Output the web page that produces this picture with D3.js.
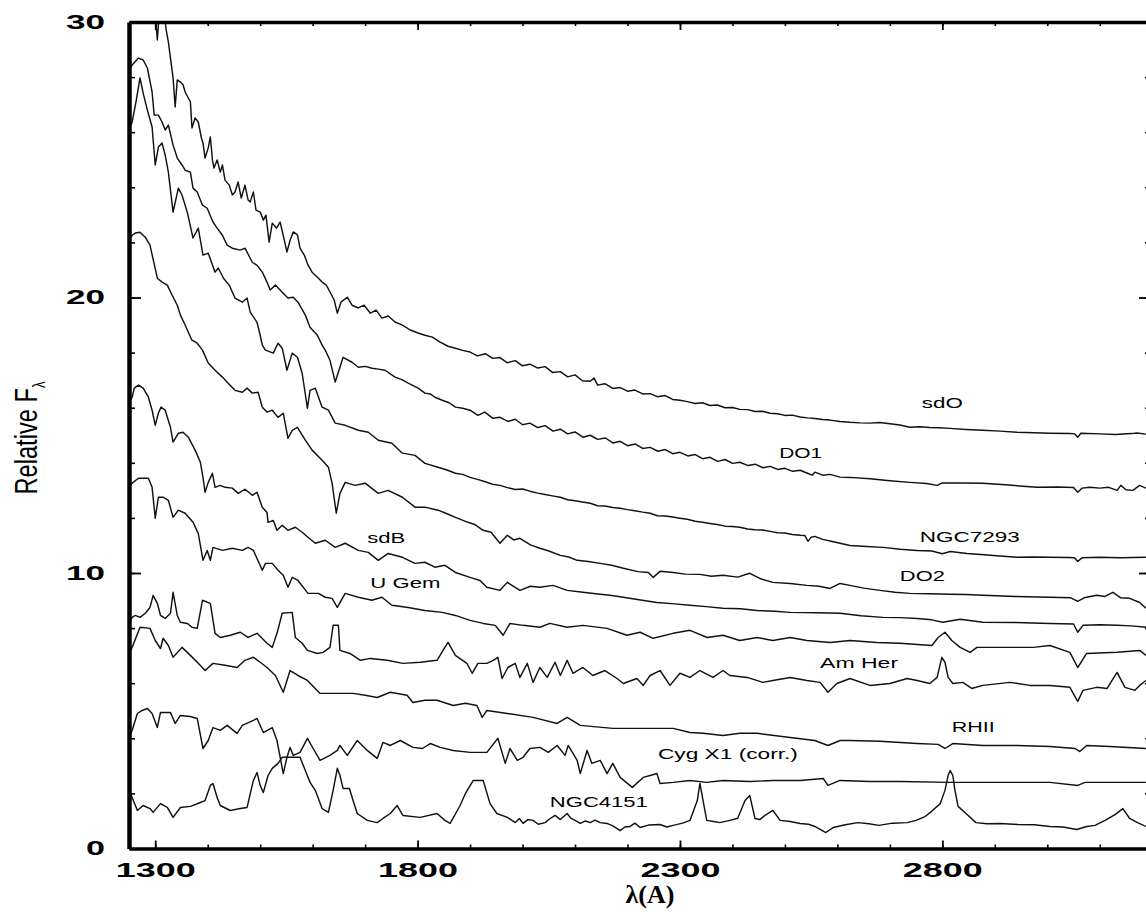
<!DOCTYPE html>
<html><head><meta charset="utf-8">
<script src="https://cdn.jsdelivr.net/npm/d3@7"></script>
<style>body{margin:0;background:#fff}svg{display:block}</style>
</head><body>
<script>
// ---------- data (wavelength in A, relative flux) ----------
const xTickLabels = [1300, 1800, 2300, 2800];
const yTickLabels = [0, 10, 20, 30];

const sdO = [[1252,31.5],[1290,31.0],[1300,30.25],[1304,29.35],[1308,30.44],[1315,30.6],[1321,29.7],[1325,29.28],[1330,28.55],[1334,27.97],[1338,26.92],[1342,27.90],[1348,27.82],[1353,27.72],[1357,27.46],[1363,27.24],[1367,27.10],[1370,26.15],[1376,26.52],[1382,26.37],[1388,25.79],[1391,25.61],[1395,25.06],[1401,25.43],[1405,25.83],[1409,24.99],[1412,24.70],[1418,24.99],[1424,24.55],[1428,24.81],[1433,24.26],[1441,24.08],[1447,23.72],[1452,23.83],[1458,24.19],[1464,23.61],[1471,24.08],[1477,23.54],[1481,23.47],[1487,23.83],[1492,23.17],[1500,23.10],[1506,22.81],[1511,22.99],[1517,22.01],[1523,22.70],[1531,22.52],[1538,22.74],[1546,22.08],[1551,21.65],[1557,22.08],[1563,22.38],[1571,22.27],[1576,21.79],[1584,21.54],[1591,21.18],[1599,20.92],[1611,20.70],[1618,20.56],[1626,20.45],[1633,20.20],[1641,19.91],[1647,19.43],[1654,19.83],[1666,20.01],[1675,19.72],[1687,19.62],[1698,19.72],[1710,19.43],[1721,19.54],[1732,19.25],[1744,19.33],[1757,19.11],[1771,19.00],[1786,18.82],[1801,18.71],[1814,18.63],[1828,18.56],[1843,18.38],[1858,18.23],[1872,18.16],[1886,18.08],[1900,18.02],[1914,17.88],[1929,17.96],[1943,17.79],[1957,17.82],[1971,17.63],[1986,17.71],[2000,17.52],[2014,17.58],[2029,17.44],[2043,17.49],[2057,17.28],[2072,17.31],[2086,17.12],[2100,17.19],[2114,16.98],[2129,16.96],[2136,17.08],[2143,16.82],[2157,16.87],[2172,16.70],[2186,16.73],[2200,16.60],[2214,16.64],[2229,16.50],[2243,16.51],[2257,16.40],[2272,16.44],[2286,16.30],[2300,16.27],[2314,16.22],[2329,16.15],[2343,16.18],[2357,16.08],[2371,16.10],[2386,16.00],[2400,16.01],[2414,15.94],[2429,15.93],[2443,15.86],[2457,15.87],[2472,15.80],[2486,15.78],[2500,15.72],[2514,15.73],[2529,15.66],[2543,15.63],[2557,15.61],[2572,15.57],[2586,15.55],[2605,15.50],[2624,15.47],[2643,15.45],[2662,15.44],[2681,15.46],[2700,15.42],[2719,15.37],[2738,15.29],[2757,15.31],[2776,15.28],[2795,15.27],[2814,15.25],[2845,15.21],[2877,15.18],[2910,15.15],[2942,15.11],[2975,15.09],[3005,15.07],[3043,15.06],[3052,15.05],[3058,14.93],[3064,15.07],[3100,15.05],[3130,15.03],[3160,15.06],[3171,15.08],[3188,15.04]];

const DO1 = [[1250,28.20],[1256,28.44],[1268,28.69],[1277,28.62],[1285,28.33],[1294,27.46],[1298,26.62],[1306,26.62],[1313,26.37],[1319,26.08],[1325,26.26],[1334,25.53],[1342,25.06],[1351,24.81],[1357,24.62],[1367,24.55],[1372,23.97],[1380,23.83],[1390,23.35],[1399,23.24],[1410,22.74],[1418,22.52],[1428,22.26],[1437,21.90],[1447,21.79],[1462,21.72],[1471,21.79],[1485,21.28],[1494,21.17],[1504,20.92],[1513,20.56],[1519,20.27],[1529,20.45],[1542,20.19],[1553,19.98],[1563,20.01],[1572,19.83],[1586,19.36],[1595,18.92],[1609,18.63],[1618,18.27],[1624,18.09],[1633,17.72],[1643,16.93],[1652,17.47],[1658,17.83],[1675,17.65],[1687,17.47],[1700,17.50],[1713,17.43],[1725,17.40],[1738,17.36],[1757,17.11],[1770,17.02],[1782,16.89],[1801,16.71],[1814,16.53],[1824,16.50],[1833,16.38],[1847,16.27],[1860,16.18],[1872,16.02],[1886,15.98],[1900,15.91],[1915,15.72],[1928,15.84],[1943,15.62],[1957,15.65],[1972,15.50],[1986,15.58],[2000,15.38],[2014,15.44],[2029,15.28],[2043,15.35],[2058,15.15],[2072,15.22],[2086,15.05],[2100,15.12],[2115,14.93],[2129,15.00],[2143,14.85],[2158,14.90],[2172,14.72],[2186,14.78],[2200,14.62],[2215,14.68],[2229,14.52],[2243,14.56],[2258,14.42],[2272,14.48],[2286,14.33],[2300,14.38],[2315,14.25],[2329,14.30],[2343,14.15],[2357,14.20],[2372,14.05],[2386,14.12],[2400,13.98],[2414,14.02],[2430,13.90],[2443,13.95],[2458,13.82],[2472,13.87],[2486,13.76],[2500,13.80],[2515,13.69],[2529,13.73],[2543,13.62],[2552,13.55],[2557,13.66],[2572,13.55],[2586,13.58],[2605,13.48],[2624,13.47],[2662,13.42],[2700,13.35],[2738,13.29],[2770,13.25],[2790,13.18],[2800,13.27],[2840,13.27],[2877,13.26],[2920,13.20],[2980,13.11],[3020,13.12],[3050,13.10],[3058,12.93],[3066,13.08],[3081,13.11],[3100,13.08],[3117,13.11],[3133,13.00],[3140,13.18],[3150,13.02],[3163,13.00],[3176,13.18],[3188,13.08]];

const NGC7293 = [[1250,26.10],[1256,26.37],[1264,27.17],[1271,27.97],[1277,27.42],[1285,26.80],[1294,26.19],[1300,24.81],[1306,25.46],[1313,25.61],[1319,25.17],[1325,24.55],[1334,23.10],[1344,23.97],[1351,23.72],[1361,23.10],[1372,22.16],[1382,22.52],[1391,21.54],[1401,21.61],[1414,20.92],[1420,21.07],[1430,20.70],[1441,20.45],[1452,19.98],[1466,19.83],[1475,19.98],[1481,19.47],[1494,19.10],[1500,18.63],[1504,18.27],[1510,18.09],[1525,17.98],[1534,18.34],[1542,18.16],[1551,17.36],[1561,17.98],[1571,17.83],[1580,17.25],[1590,15.98],[1595,16.63],[1605,16.71],[1618,16.02],[1630,15.91],[1643,15.44],[1662,15.36],[1687,15.18],[1706,15.11],[1725,14.82],[1751,14.71],[1771,14.35],[1795,14.27],[1814,13.98],[1839,13.84],[1856,13.74],[1872,13.62],[1886,13.58],[1900,13.47],[1914,13.40],[1929,13.31],[1943,13.22],[1957,13.18],[1971,13.10],[1986,13.03],[2000,13.05],[2014,12.97],[2029,12.90],[2043,12.85],[2057,12.80],[2072,12.75],[2086,12.66],[2100,12.62],[2114,12.58],[2129,12.53],[2143,12.44],[2157,12.43],[2172,12.38],[2186,12.35],[2200,12.30],[2214,12.26],[2229,12.21],[2243,12.17],[2257,12.08],[2272,12.07],[2286,12.03],[2300,11.99],[2314,11.95],[2329,11.88],[2343,11.84],[2357,11.80],[2371,11.76],[2386,11.70],[2400,11.69],[2414,11.66],[2429,11.60],[2443,11.57],[2457,11.56],[2472,11.51],[2486,11.46],[2500,11.45],[2514,11.40],[2529,11.37],[2538,11.36],[2544,11.15],[2550,11.30],[2557,11.33],[2572,11.22],[2586,11.16],[2605,11.08],[2624,11.00],[2656,10.96],[2687,10.93],[2720,10.86],[2752,10.82],[2780,10.80],[2800,10.70],[2815,10.78],[2847,10.71],[2880,10.66],[2910,10.62],[2942,10.57],[2975,10.58],[3005,10.57],[3040,10.56],[3052,10.55],[3058,10.42],[3066,10.55],[3100,10.57],[3140,10.55],[3188,10.57]];

const DO2 = [[1250,22.08],[1256,22.26],[1262,22.34],[1271,22.37],[1281,22.19],[1290,21.90],[1304,20.70],[1313,20.56],[1323,20.45],[1332,20.09],[1342,19.72],[1348,19.36],[1357,19.00],[1363,18.74],[1370,18.45],[1380,18.34],[1390,18.09],[1401,17.62],[1414,17.36],[1428,17.11],[1439,16.89],[1452,16.63],[1466,16.56],[1475,16.71],[1485,16.53],[1496,16.56],[1504,16.02],[1513,15.84],[1523,15.91],[1534,15.65],[1544,15.80],[1553,14.89],[1561,15.18],[1571,15.29],[1586,14.82],[1599,14.46],[1618,14.09],[1630,13.84],[1637,13.26],[1645,12.17],[1652,12.89],[1662,13.29],[1681,13.18],[1700,13.26],[1725,12.89],[1744,13.00],[1771,12.75],[1795,12.39],[1814,12.39],[1839,12.28],[1856,12.15],[1872,12.02],[1896,11.84],[1910,11.75],[1925,11.55],[1940,11.48],[1957,11.08],[1971,11.37],[1983,11.20],[1995,11.26],[2015,11.02],[2033,10.90],[2050,10.80],[2072,10.64],[2088,10.58],[2104,10.46],[2125,10.42],[2148,10.35],[2170,10.28],[2192,10.17],[2220,10.05],[2240,10.02],[2249,9.84],[2262,10.06],[2287,10.02],[2310,9.96],[2338,9.95],[2360,9.88],[2382,9.92],[2410,9.85],[2433,9.99],[2455,9.78],[2477,9.66],[2510,9.62],[2542,9.55],[2565,9.52],[2586,9.44],[2605,9.62],[2624,9.55],[2650,9.45],[2681,9.37],[2710,9.30],[2738,9.26],[2775,9.25],[2814,9.23],[2845,9.22],[2877,9.19],[2940,9.15],[3005,9.12],[3045,9.10],[3058,8.97],[3070,9.10],[3094,9.19],[3110,9.15],[3125,9.30],[3140,9.10],[3157,9.08],[3176,8.93],[3188,8.72]];

const sdB = [[1250,16.20],[1256,16.38],[1260,16.71],[1268,16.82],[1277,16.71],[1287,16.38],[1294,15.91],[1300,15.36],[1306,15.80],[1311,16.02],[1319,15.91],[1329,15.29],[1334,14.75],[1344,15.07],[1353,15.11],[1363,14.93],[1376,14.46],[1386,14.02],[1391,13.47],[1395,12.93],[1401,13.29],[1409,13.62],[1414,13.11],[1424,13.18],[1433,13.11],[1447,13.08],[1458,12.89],[1471,13.04],[1485,12.82],[1494,12.93],[1504,12.39],[1513,12.20],[1515,11.84],[1525,11.91],[1532,11.55],[1542,11.73],[1553,11.55],[1567,11.66],[1580,11.48],[1591,11.30],[1605,11.08],[1624,11.19],[1643,10.93],[1662,11.08],[1687,10.82],[1706,10.75],[1725,10.46],[1744,10.71],[1771,10.57],[1795,10.35],[1814,10.39],[1833,10.21],[1852,10.28],[1872,10.02],[1900,9.84],[1919,9.73],[1932,9.48],[1957,9.37],[1971,9.66],[1995,9.37],[2015,9.52],[2033,9.48],[2058,9.55],[2085,9.37],[2115,9.30],[2148,9.23],[2170,9.18],[2192,9.12],[2225,9.02],[2256,8.93],[2290,8.88],[2319,8.83],[2350,8.78],[2382,8.72],[2415,8.70],[2447,8.64],[2480,8.61],[2510,8.57],[2560,8.56],[2605,8.54],[2645,8.45],[2687,8.39],[2720,8.38],[2752,8.35],[2780,8.30],[2801,8.21],[2834,8.32],[2877,8.21],[2940,8.20],[3005,8.17],[3050,8.15],[3058,7.85],[3068,8.10],[3100,8.12],[3133,8.10],[3160,8.08],[3188,8.03]];

const UGem = [[1250,13.10],[1256,13.26],[1268,13.44],[1287,13.44],[1294,13.11],[1300,11.99],[1306,12.75],[1315,12.75],[1325,12.64],[1334,12.02],[1344,12.28],[1357,12.17],[1372,11.84],[1382,11.44],[1391,10.46],[1399,10.82],[1405,10.46],[1410,10.93],[1428,10.82],[1447,10.90],[1466,10.82],[1477,10.93],[1487,10.82],[1504,10.10],[1510,10.35],[1523,10.35],[1534,10.10],[1544,9.92],[1553,9.48],[1561,9.84],[1572,9.73],[1591,9.26],[1611,9.26],[1624,9.12],[1637,9.08],[1647,8.75],[1662,9.26],[1687,9.12],[1713,9.01],[1732,9.12],[1751,8.83],[1782,8.75],[1814,8.64],[1847,8.57],[1872,8.46],[1900,8.28],[1925,8.17],[1948,8.10],[1963,7.74],[1976,8.17],[2001,8.10],[2033,8.03],[2052,8.17],[2085,8.03],[2115,8.10],[2161,7.99],[2199,7.74],[2224,7.85],[2249,7.63],[2287,7.81],[2319,7.92],[2352,7.66],[2382,7.74],[2414,7.55],[2447,7.66],[2477,7.55],[2510,7.66],[2542,7.55],[2586,7.48],[2624,7.55],[2675,7.48],[2719,7.45],[2780,7.37],[2792,7.66],[2805,7.85],[2818,7.55],[2834,7.30],[2853,7.12],[2866,7.30],[2910,7.30],[2973,7.30],[3005,7.37],[3043,7.12],[3058,6.57],[3075,7.08],[3133,7.12],[3176,7.19],[3188,7.01]];

const AmHer = [[1250,8.20],[1256,8.39],[1262,8.46],[1271,8.39],[1281,8.54],[1290,8.75],[1296,9.19],[1304,8.90],[1310,8.46],[1319,8.35],[1329,8.54],[1334,9.30],[1342,8.46],[1348,8.21],[1361,8.17],[1370,8.03],[1380,7.99],[1390,9.01],[1405,8.90],[1414,7.81],[1424,7.66],[1443,7.74],[1462,7.85],[1477,7.66],[1494,7.81],[1513,7.45],[1523,7.30],[1532,7.81],[1542,8.54],[1561,8.57],[1567,7.66],[1580,7.45],[1590,7.19],[1609,7.08],[1620,7.12],[1633,7.30],[1639,8.10],[1649,8.10],[1652,7.19],[1671,7.08],[1691,6.83],[1710,6.90],[1742,6.83],[1772,6.72],[1805,6.76],[1837,6.83],[1852,7.30],[1858,7.48],[1872,7.01],[1894,6.72],[1904,6.36],[1915,6.72],[1932,6.72],[1944,6.83],[1953,6.94],[1961,6.17],[1972,6.57],[1986,6.72],[1995,6.21],[2009,6.72],[2020,6.03],[2033,6.57],[2047,6.21],[2062,6.76],[2072,6.28],[2085,6.83],[2096,6.36],[2115,6.57],[2134,6.28],[2157,6.46],[2180,6.17],[2192,5.99],[2218,6.17],[2230,5.92],[2243,6.28],[2262,6.46],[2281,5.92],[2300,6.36],[2319,6.21],[2338,6.46],[2363,6.21],[2382,6.46],[2395,6.28],[2428,6.21],[2458,6.03],[2477,6.10],[2510,6.21],[2542,6.10],[2567,6.03],[2582,5.67],[2599,5.99],[2624,6.17],[2662,5.92],[2700,5.99],[2733,6.17],[2752,6.10],[2776,5.99],[2790,6.21],[2799,6.94],[2805,6.76],[2811,6.21],[2820,5.99],[2839,6.03],[2856,5.81],[2877,5.92],[2929,6.03],[2967,5.92],[3005,5.92],[3043,5.85],[3058,5.34],[3068,5.74],[3094,5.85],[3114,5.81],[3133,6.39],[3148,5.85],[3167,5.74],[3176,5.92],[3188,6.10]];

const RHII = [[1250,7.05],[1256,7.30],[1271,8.03],[1290,7.99],[1300,7.55],[1310,7.26],[1315,7.63],[1325,7.37],[1334,6.94],[1351,7.30],[1367,7.01],[1382,6.72],[1395,6.46],[1410,6.72],[1433,6.65],[1456,6.57],[1471,6.83],[1487,6.94],[1500,6.76],[1513,6.57],[1529,6.28],[1544,5.67],[1557,6.46],[1572,6.28],[1590,6.10],[1605,5.81],[1614,5.63],[1643,5.63],[1677,5.63],[1700,5.56],[1723,5.48],[1748,5.67],[1780,5.56],[1791,5.30],[1814,5.38],[1837,5.38],[1868,5.19],[1891,5.27],[1913,5.19],[1923,4.76],[1932,5.01],[1971,4.90],[2020,4.76],[2066,4.54],[2085,4.76],[2110,4.47],[2172,4.36],[2224,4.36],[2287,4.36],[2319,4.21],[2344,4.18],[2382,4.10],[2414,4.18],[2447,4.18],[2510,4.03],[2557,3.92],[2582,3.74],[2605,3.92],[2624,3.92],[2681,3.89],[2752,3.81],[2792,3.78],[2805,3.63],[2820,3.81],[2877,3.74],[2942,3.74],[3005,3.70],[3053,3.63],[3062,3.52],[3075,3.74],[3119,3.70],[3188,3.63]];

const CygX1 = [[1250,4.00],[1256,4.29],[1266,4.90],[1275,5.01],[1285,5.08],[1294,4.90],[1304,4.39],[1310,4.94],[1329,4.94],[1338,4.54],[1348,4.83],[1367,4.79],[1380,4.72],[1391,3.63],[1401,3.92],[1410,4.39],[1424,4.29],[1437,4.47],[1456,4.18],[1466,4.47],[1487,4.65],[1494,4.72],[1506,4.21],[1523,4.39],[1532,3.92],[1544,2.72],[1551,3.31],[1557,3.67],[1563,3.38],[1576,3.49],[1590,4.00],[1601,3.63],[1614,3.20],[1633,3.38],[1647,3.56],[1652,3.74],[1666,3.38],[1685,3.92],[1704,3.56],[1723,3.27],[1734,3.85],[1748,3.74],[1767,3.92],[1791,3.67],[1809,3.63],[1824,3.81],[1843,3.67],[1868,3.56],[1900,3.49],[1932,3.49],[1953,4.00],[1967,3.09],[1976,3.63],[1990,3.20],[2001,3.31],[2014,3.63],[2033,3.67],[2049,3.49],[2066,3.74],[2081,3.38],[2087,3.74],[2104,3.20],[2110,2.72],[2123,3.56],[2132,3.09],[2148,3.20],[2161,2.72],[2172,3.09],[2186,2.58],[2209,2.22],[2230,2.58],[2243,2.65],[2256,2.72],[2262,2.36],[2287,2.40],[2319,2.47],[2351,2.40],[2382,2.47],[2433,2.43],[2477,2.47],[2529,2.47],[2573,2.54],[2582,2.29],[2605,2.47],[2662,2.43],[2719,2.43],[2814,2.40],[2910,2.40],[3005,2.40],[3058,2.29],[3072,2.40],[3188,2.40]];

const NGC4151 = [[1250,2.11],[1256,1.85],[1266,1.38],[1277,1.56],[1290,1.45],[1296,1.31],[1310,1.63],[1323,1.49],[1334,1.13],[1348,1.49],[1367,1.53],[1386,1.67],[1395,1.74],[1405,2.29],[1410,2.36],[1418,1.85],[1424,1.56],[1443,1.38],[1462,1.45],[1475,1.49],[1487,2.47],[1494,2.76],[1500,2.29],[1506,2.03],[1515,2.65],[1523,2.91],[1534,3.09],[1542,3.31],[1576,3.31],[1586,2.83],[1595,2.40],[1605,2.11],[1618,1.45],[1630,1.31],[1639,2.11],[1647,2.91],[1652,2.65],[1658,2.18],[1670,2.18],[1677,1.74],[1685,1.27],[1704,1.02],[1723,0.94],[1734,1.09],[1748,1.27],[1761,1.56],[1772,1.20],[1805,1.13],[1837,1.27],[1852,1.02],[1862,0.91],[1881,1.56],[1892,2.03],[1906,2.47],[1925,2.47],[1938,1.63],[1951,1.27],[1971,1.13],[1980,1.02],[1986,0.94],[1994,1.09],[2001,0.91],[2010,1.05],[2020,1.02],[2030,0.88],[2043,0.94],[2052,1.08],[2062,1.20],[2072,1.05],[2085,1.27],[2092,1.10],[2100,1.02],[2110,0.91],[2120,1.00],[2129,0.94],[2138,1.03],[2148,0.94],[2161,0.91],[2172,0.82],[2186,0.65],[2195,0.78],[2205,0.80],[2214,0.92],[2224,0.76],[2240,0.85],[2262,0.87],[2275,0.78],[2287,0.84],[2305,0.92],[2319,1.02],[2333,1.74],[2338,2.36],[2344,1.74],[2351,1.02],[2364,0.98],[2376,0.94],[2395,1.02],[2410,1.10],[2424,1.74],[2433,1.92],[2443,1.09],[2452,1.05],[2462,1.20],[2477,1.38],[2491,1.02],[2510,0.98],[2529,0.91],[2545,0.88],[2557,0.80],[2578,0.58],[2592,0.76],[2615,0.86],[2639,0.94],[2660,0.90],[2679,0.84],[2705,0.92],[2733,0.94],[2750,1.02],[2767,1.16],[2779,1.34],[2796,1.63],[2805,2.11],[2811,2.65],[2815,2.83],[2820,2.65],[2824,2.11],[2830,1.53],[2845,1.27],[2864,0.94],[2885,0.90],[2910,0.91],[2944,0.87],[2975,0.86],[3005,0.80],[3030,0.78],[3056,0.69],[3075,0.80],[3091,0.84],[3110,1.02],[3129,1.23],[3144,1.45],[3157,1.09],[3172,0.94],[3188,0.80]];

const spectra = [sdO, DO1, NGC7293, DO2, sdB, UGem, AmHer, RHII, CygX1, NGC4151];
const labelNames = ["sdO", "DO1", "NGC7293", "DO2", "sdB", "U Gem", "Am Her", "RHII", "Cyg X1 (corr.)", "NGC4151"];
const labelAnchors = [[2761,15.99],[2489,14.17],[2757,11.13],[2719,9.71],[1704,11.09],[1710,9.46],[2567,6.55],[2818,4.22],[2258,3.25],[2052,1.51]];

// ---------- layout ----------
const W = 1146, H = 912;
const labelWidths = [41, 43, 100, 45, 38, 70, 78, 43, 140, 98];
const x = d3.scaleLinear().domain([1250, 3190]).range([129, 1147]);
const y = d3.scaleLinear().domain([0, 30]).range([848.5, 22]);
const sansFont = "'Liberation Sans', Arial, Helvetica, sans-serif";

const svg = d3.select("body").append("svg").attr("width", W).attr("height", H)
  .style("background", "#fff");

svg.append("defs").append("clipPath").attr("id", "plotclip")
  .append("rect").attr("x", x(1250)).attr("y", y(30))
  .attr("width", x(3190) - x(1250)).attr("height", y(0) - y(30));

// spectra
const line = d3.line().x(d => x(d[0])).y(d => y(d[1]));
svg.append("g").attr("clip-path", "url(#plotclip)")
  .selectAll("path").data(spectra).join("path")
  .attr("d", line).attr("fill", "none").attr("stroke", "#111")
  .attr("stroke-width", 1.45).attr("stroke-linejoin", "round");

// axes
const minorX = d3.range(1300, 3190, 100);
const minorY = d3.range(0, 31, 2);
function styleAxis(g, w) {
  g.select(".domain").attr("stroke", "#000").attr("stroke-width", w);
  g.selectAll(".tick line").attr("stroke", "#000").attr("stroke-width", 1.6);
}
// bottom
svg.append("g").attr("transform", `translate(0,${y(0)})`)
  .call(d3.axisBottom(x).tickValues(minorX).tickSizeInner(-4).tickSizeOuter(0).tickFormat(""))
  .call(g => styleAxis(g, 3.5));
const bottomMajor = svg.append("g").attr("transform", `translate(0,${y(0)})`)
  .call(d3.axisBottom(x).tickValues(xTickLabels).tickSizeInner(-8).tickSizeOuter(0).tickPadding(14).tickFormat(d3.format("d")));
bottomMajor.select(".domain").remove();
bottomMajor.selectAll(".tick line").attr("stroke", "#000").attr("stroke-width", 1.8);
bottomMajor.selectAll("text").attr("font-family", sansFont).attr("font-size", 21).attr("font-weight", "bold")
  .attr("fill", "#000").attr("textLength", 80).attr("lengthAdjust", "spacingAndGlyphs");
// top
svg.append("g").attr("transform", `translate(0,${y(30)})`)
  .call(d3.axisTop(x).tickValues(minorX).tickSizeInner(-4).tickSizeOuter(0).tickFormat(""))
  .call(g => styleAxis(g, 3.5));
const topMajor = svg.append("g").attr("transform", `translate(0,${y(30)})`)
  .call(d3.axisTop(x).tickValues(xTickLabels).tickSizeInner(-8).tickSizeOuter(0).tickFormat(""));
topMajor.select(".domain").remove();
topMajor.selectAll(".tick line").attr("stroke", "#000").attr("stroke-width", 1.8);
// left
svg.append("g").attr("transform", `translate(${x(1250)},0)`)
  .call(d3.axisLeft(y).tickValues(minorY).tickSizeInner(-6).tickSizeOuter(0).tickFormat(""))
  .call(g => styleAxis(g, 4.5));
const leftMajor = svg.append("g").attr("transform", `translate(${x(1250)},0)`)
  .call(d3.axisLeft(y).tickValues(yTickLabels).tickSizeInner(-12).tickSizeOuter(0).tickPadding(24).tickFormat(d3.format("d")));
leftMajor.select(".domain").remove();
leftMajor.selectAll(".tick line").attr("stroke", "#000").attr("stroke-width", 1.8);
leftMajor.selectAll("text").attr("font-family", sansFont).attr("font-size", 21).attr("font-weight", "bold")
  .attr("fill", "#000").attr("dy", "0.30em")
  .attr("textLength", d => String(d).length * 20 - 1).attr("lengthAdjust", "spacingAndGlyphs");
// right (axis line sits just beyond the picture edge, only the inward ticks show)
const rightX = x(3190) + 4;
svg.append("g").attr("transform", `translate(${rightX},0)`)
  .call(d3.axisRight(y).tickValues(minorY).tickSizeInner(-6).tickSizeOuter(0).tickFormat(""))
  .call(g => styleAxis(g, 3));
const rightMajor = svg.append("g").attr("transform", `translate(${rightX},0)`)
  .call(d3.axisRight(y).tickValues(yTickLabels).tickSizeInner(-12).tickSizeOuter(0).tickFormat(""));
rightMajor.select(".domain").remove();
rightMajor.selectAll(".tick line").attr("stroke", "#000").attr("stroke-width", 1.8);

// spectrum labels
svg.append("g").selectAll("text").data(labelNames).join("text")
  .attr("x", (d, i) => x(labelAnchors[i][0]))
  .attr("y", (d, i) => y(labelAnchors[i][1]))
  .attr("font-family", sansFont).attr("font-size", 15).attr("fill", "#000")
  .attr("textLength", (d, i) => labelWidths[i]).attr("lengthAdjust", "spacingAndGlyphs")
  .text(d => d);

// axis titles
svg.append("text").attr("x", 650).attr("y", 903).attr("text-anchor", "middle")
  .attr("font-family", "'Liberation Serif', 'Times New Roman', serif").attr("font-size", 26)
  .attr("font-weight", "bold").attr("fill", "#000").text("λ(A)");

const yt = svg.append("text").attr("transform", "translate(37,438) rotate(-90) scale(0.74,1)")
  .attr("text-anchor", "middle").attr("font-family", sansFont).attr("font-size", 32).attr("fill", "#000");
yt.append("tspan").text("Relative F");
yt.append("tspan").attr("font-size", 18).attr("dy", 8).text("λ");
</script>
</body></html>
